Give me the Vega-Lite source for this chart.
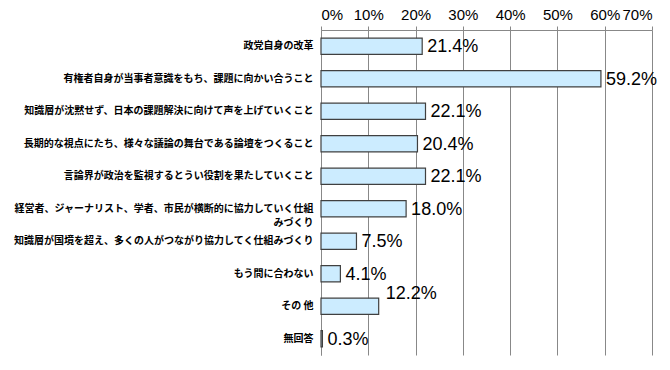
{
  "$schema": "https://vega.github.io/schema/vega-lite/v6.json",
  "autosize": {"type": "none"},
  "padding": {"left": 321, "top": 30, "right": 18, "bottom": 15},
  "width": 331,
  "height": 325,
  "background": "white",
  "config": {"view": {"stroke": null}},
  "data": {
    "values": [
      {"item": "政党自身の改革", "value": 0.214},
      {"item": "有権者自身が当事者意識をもち、課題に向かい合うこと", "value": 0.592},
      {"item": "知識層が沈黙せず、日本の課題解決に向けて声を上げていくこと", "value": 0.221},
      {"item": "長期的な視点にたち、様々な議論の舞台である論壇をつくること", "value": 0.204},
      {"item": "言論界が政治を監視するとうい役割を果たしていくこと", "value": 0.221},
      {"item": "経営者、ジャーナリスト、学者、市民が横断的に協力していく仕組|みづくり　　　　　　　　　　　", "value": 0.18},
      {"item": "知識層が国境を超え、多くの人がつながり協力してく仕組みづくり", "value": 0.075},
      {"item": "もう間に合わない", "value": 0.041},
      {"item": "その 他", "value": 0.122},
      {"item": "無回答", "value": 0.003}
    ]
  },
  "encoding": {
    "y": {
      "field": "item",
      "type": "nominal",
      "sort": null,
      "scale": {"paddingInner": 0.5, "paddingOuter": 0.25},
      "axis": {
        "title": null,
        "labelExpr": "split(datum.value, '|')",
        "labelFont": "Noto Sans CJK JP",
        "labelFontSize": 10,
        "labelFontWeight": "bold",
        "labelColor": "#000000",
        "labelPadding": 8,
        "labelLimit": 330,
        "labelLineHeight": 14,
        "ticks": false,
        "domain": true,
        "domainColor": "#888888"
      }
    },
    "x": {
      "field": "value",
      "type": "quantitative",
      "scale": {"domain": [0, 0.7], "nice": false},
      "axis": {
        "orient": "top",
        "title": null,
        "format": ".0%",
        "values": [0, 0.1, 0.2, 0.3, 0.4, 0.5, 0.6, 0.7],
        "labelFont": "Liberation Sans",
        "labelFontSize": 15,
        "labelColor": "#000000",
        "labelPadding": 4,
        "tickColor": "#888888",
        "tickSize": 4,
        "domainColor": "#888888",
        "grid": true,
        "gridColor": "#888888",
        "gridWidth": 1
      }
    }
  },
  "layer": [
    {
      "mark": {"type": "bar", "fill": "#CCECFF", "stroke": "#404040", "strokeWidth": 1.2}
    },
    {
      "transform": [{"filter": "datum.value != 0.122"}],
      "mark": {"type": "text", "align": "left", "baseline": "middle", "dx": 5, "dy": 1, "font": "Liberation Sans", "fontSize": 18, "color": "#000000"},
      "encoding": {"text": {"field": "value", "type": "quantitative", "format": ".1%"}}
    },
    {
      "transform": [{"filter": "datum.value == 0.122"}],
      "mark": {"type": "text", "align": "left", "baseline": "middle", "dx": 7, "dy": -12, "font": "Liberation Sans", "fontSize": 18, "color": "#000000"},
      "encoding": {"text": {"field": "value", "type": "quantitative", "format": ".1%"}}
    }
  ]
}
